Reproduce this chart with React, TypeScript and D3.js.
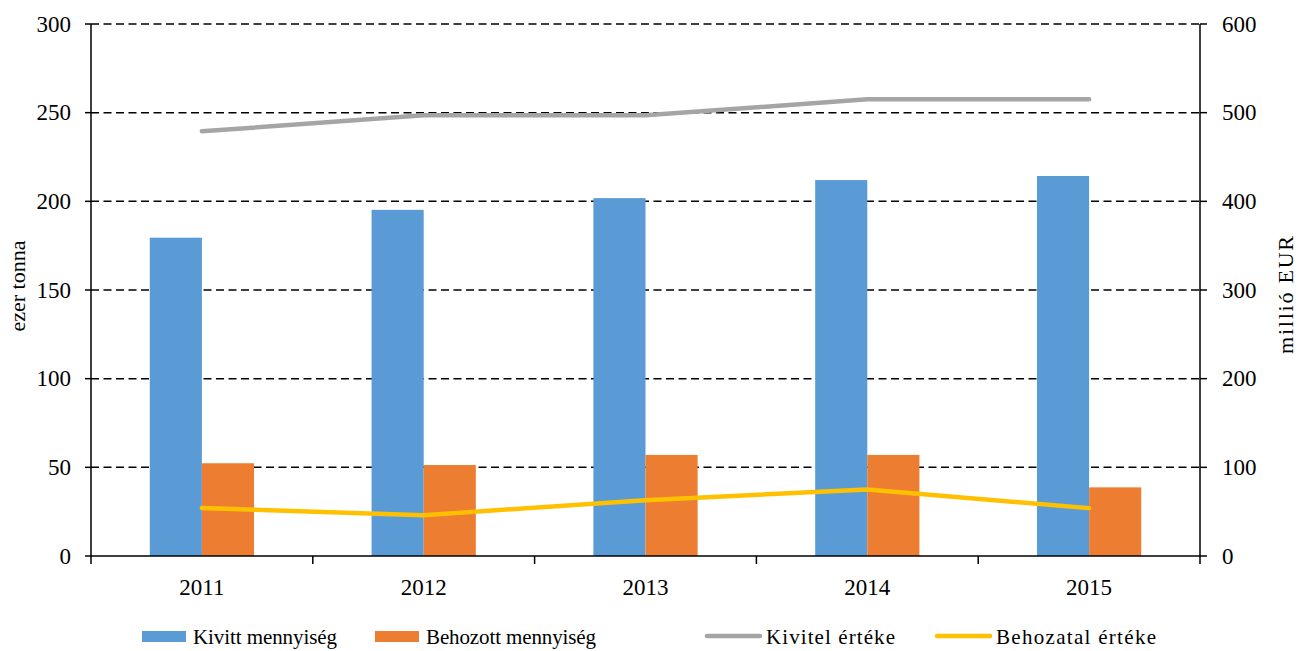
import React from "react";
import * as d3 from "d3";

const years = ["2011", "2012", "2013", "2014", "2015"];
const kivittMennyiseg = [179.5, 195.2, 201.8, 212, 214.3];
const behozottMennyiseg = [52.3, 51.3, 57, 57, 38.7];
const kivitelErteke = [479, 497, 497, 515, 515];
const behozatalErteke = [54, 46, 63, 75, 54];
const leftTicks = [0, 50, 100, 150, 200, 250, 300];
const rightTicks = [0, 100, 200, 300, 400, 500, 600];

const W = 1301, H = 651;
const L = 91, R = 1200, T = 24, B = 556;
const FONT = "Liberation Serif";
const BLUE = "#5B9BD5", ORANGE = "#ED7D31", GREY = "#A5A5A5", YELLOW = "#FFC000";

export default function App() {
  const x = d3.scaleBand<string>().domain(years).range([L, R]).paddingInner(0).paddingOuter(0);
  const yL = d3.scaleLinear().domain([0, 300]).range([B, T]);
  const yR = d3.scaleLinear().domain([0, 600]).range([B, T]);
  const bw = x.bandwidth() * 0.235;
  const cx = (d: string) => (x(d) as number) + x.bandwidth() / 2;
  const line = (vals: number[]) =>
    d3.line<number>().x((_, i) => cx(years[i])).y((v) => yR(v))(vals) as string;

  const legend = [
    { label: "Kivitt mennyiség", color: BLUE, type: "rect", x: 142, len: 144 },
    { label: "Behozott mennyiség", color: ORANGE, type: "rect", x: 375, len: 170 },
    { label: "Kivitel értéke", color: GREY, type: "line", x: 707, len: 129 },
    { label: "Behozatal értéke", color: YELLOW, type: "line", x: 937, len: 160 },
  ];

  return (
    <svg width={W} height={H} style={{ position: "absolute", left: 0, top: 0, background: "#fff", fontFamily: FONT }}>
      {/* gridlines */}
      {leftTicks.filter((t) => t > 0).map((t) => (
        <line key={t} x1={L} x2={R} y1={yL(t)} y2={yL(t)} stroke="#000" strokeWidth={1.5} strokeDasharray="8,4.5" />
      ))}
      {/* bars */}
      {years.map((yr, i) => (
        <g key={yr}>
          <rect x={cx(yr) - bw} y={yL(kivittMennyiseg[i])} width={bw} height={B - yL(kivittMennyiseg[i])} fill={BLUE} />
          <rect x={cx(yr)} y={yL(behozottMennyiseg[i])} width={bw} height={B - yL(behozottMennyiseg[i])} fill={ORANGE} />
        </g>
      ))}
      {/* lines */}
      <path d={line(kivitelErteke)} fill="none" stroke={GREY} strokeWidth={4.5} strokeLinecap="round" strokeLinejoin="round" />
      <path d={line(behozatalErteke)} fill="none" stroke={YELLOW} strokeWidth={4.5} strokeLinecap="round" strokeLinejoin="round" />
      {/* axes */}
      <line x1={L} x2={L} y1={T} y2={B} stroke="#000" strokeWidth={1.5} />
      <line x1={R} x2={R} y1={T} y2={B + 8} stroke="#000" strokeWidth={1.5} />
      <line x1={L} x2={R} y1={B} y2={B} stroke="#000" strokeWidth={1.5} />
      {leftTicks.map((t) => (
        <g key={"l" + t}>
          <line x1={L - 6} x2={L} y1={yL(t)} y2={yL(t)} stroke="#000" strokeWidth={1.5} />
          <text x={71} y={yL(t)} dy="0.33em" textAnchor="end" fontSize={23} fontFamily={FONT}>{t}</text>
        </g>
      ))}
      {rightTicks.map((t) => (
        <g key={"r" + t}>
          <line x1={R} x2={R + 7} y1={yR(t)} y2={yR(t)} stroke="#000" strokeWidth={1.5} />
          <text x={1222} y={yR(t)} dy="0.33em" textAnchor="start" fontSize={23} fontFamily={FONT}>{t}</text>
        </g>
      ))}
      {years.map((yr) => (
        <line key={"xt" + yr} x1={x(yr) as number} x2={x(yr) as number} y1={B} y2={B + 8} stroke="#000" strokeWidth={1.5} />
      ))}
      {years.map((yr) => (
        <text key={"xl" + yr} x={cx(yr)} y={595} textAnchor="middle" fontSize={23} fontFamily={FONT}>{yr}</text>
      ))}
      <text transform={`translate(25,286) rotate(-90)`} textAnchor="middle" fontSize={22} fontFamily={FONT}>ezer tonna</text>
      <text transform={`translate(1293,295) rotate(-90)`} textAnchor="middle" fontSize={22} fontFamily={FONT} textLength={118} lengthAdjust="spacing">millió EUR</text>
      {/* legend */}
      {legend.map((l) => (
        <g key={l.label}>
          {l.type === "rect" ? (
            <rect x={l.x} y={631} width={44} height={11} fill={l.color} />
          ) : (
            <line x1={l.x} x2={l.x + 53} y1={636} y2={636} stroke={l.color} strokeWidth={4.5} strokeLinecap="round" />
          )}
          <text x={l.x + (l.type === "rect" ? 51 : 59)} y={644} fontSize={21} fontFamily={FONT} textLength={l.len} lengthAdjust="spacing">{l.label}</text>
        </g>
      ))}
    </svg>
  );
}
